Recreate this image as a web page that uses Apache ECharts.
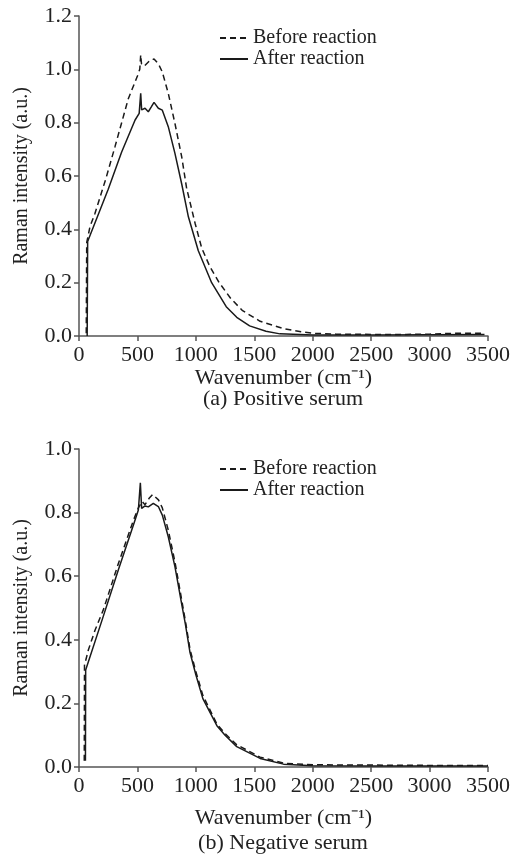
<!DOCTYPE html>
<html>
<head>
<meta charset="utf-8">
<script src="https://cdn.jsdelivr.net/npm/echarts@6/dist/echarts.min.js"></script>
<style>
html,body{margin:0;padding:0;background:#fff;}
#chart{width:520px;height:856px;}
</style>
</head>
<body>
<div id="chart"></div>
<script>
// ---- Data ----
const seriesNames = ['Before reaction', 'After reaction'];
const xTicks = [0, 500, 1000, 1500, 2000, 2500, 3000, 3500];

// (a) Positive serum
const posBeforeX = [62, 66, 94, 137, 194, 230, 308, 422, 500, 520, 528, 535, 559, 600, 642, 680, 713, 764, 821, 879, 921, 995, 1050, 1120, 1200, 1300, 1400, 1550, 1750, 1900, 2000, 2200, 2500, 2800, 3000, 3200, 3470];
const posBeforeY = [0.01, 0.35, 0.41, 0.46, 0.54, 0.59, 0.71, 0.89, 0.975, 1.0, 1.054, 1.02, 1.012, 1.03, 1.039, 1.02, 0.99, 0.91, 0.797, 0.672, 0.554, 0.42, 0.33, 0.26, 0.2, 0.14, 0.095, 0.055, 0.028, 0.016, 0.01, 0.007, 0.006, 0.006, 0.007, 0.01, 0.01];
const posAfterX = [70, 74, 250, 365, 480, 515, 528, 536, 565, 593, 620, 642, 679, 713, 764, 821, 879, 936, 1021, 1135, 1260, 1350, 1460, 1600, 1720, 2000, 2500, 3000, 3470];
const posAfterY = [0.0, 0.354, 0.55, 0.69, 0.81, 0.835, 0.91, 0.848, 0.854, 0.841, 0.86, 0.876, 0.854, 0.847, 0.785, 0.685, 0.57, 0.447, 0.32, 0.2, 0.11, 0.07, 0.038, 0.018, 0.008, 0.004, 0.004, 0.005, 0.006];

// (b) Negative serum
const negBeforeX = [45, 47, 80, 137, 208, 337, 465, 508, 540, 565, 600, 630, 680, 713, 764, 821, 879, 910, 950, 1000, 1060, 1180, 1250, 1350, 1550, 1750, 2000, 2500, 3000, 3500];
const negBeforeY = [0.02, 0.32, 0.368, 0.43, 0.494, 0.64, 0.775, 0.815, 0.835, 0.825, 0.845, 0.857, 0.84, 0.815, 0.745, 0.645, 0.525, 0.46, 0.37, 0.3, 0.225, 0.135, 0.105, 0.07, 0.031, 0.012, 0.007, 0.006, 0.005, 0.005];
const negAfterX = [55, 57, 200, 337, 465, 508, 525, 536, 565, 593, 636, 679, 713, 764, 821, 880, 910, 950, 1000, 1060, 1180, 1250, 1350, 1550, 1750, 2000, 2500, 3000, 3500];
const negAfterY = [0.02, 0.305, 0.465, 0.62, 0.76, 0.808, 0.894, 0.813, 0.821, 0.818, 0.829, 0.819, 0.792, 0.724, 0.63, 0.51, 0.45, 0.36, 0.29, 0.215, 0.13, 0.1, 0.064, 0.027, 0.009, 0.004, 0.003, 0.003, 0.003];

const captions = ['(a) Positive serum', '(b) Negative serum'];
const yName = 'Raman intensity (a.u.)';
const xName = 'Wavenumber (cm\u207B\u00B9)';

// ---- Build chart ----
const zip = (xs, ys) => xs.map((x, i) => [x, ys[i]]);
const FONT = 'Liberation Serif';
const INK = '#222';
const AXC = '#555';

function xAxisDef(gridIndex, gap) {
  return {
    type: 'value', gridIndex, min: xTicks[0], max: xTicks[xTicks.length - 1], interval: 500,
    name: xName, nameLocation: 'middle', nameGap: gap,
    nameTextStyle: { fontFamily: FONT, fontSize: 22, color: INK },
    axisLine: { show: true, onZero: false, lineStyle: { color: AXC, width: 1.5 } },
    axisTick: { show: true, inside: false, length: 5, lineStyle: { color: AXC, width: 1.5 } },
    axisLabel: { fontFamily: FONT, fontSize: 22, color: INK, margin: 8, formatter: v => String(v) },
    splitLine: { show: false }
  };
}
function yAxisDef(gridIndex, max) {
  return {
    type: 'value', gridIndex, min: 0, max: max, interval: 0.2,
    name: yName, nameLocation: 'middle', nameGap: 47, nameRotate: 90,
    nameTextStyle: { fontFamily: FONT, fontSize: 20, color: INK },
    axisLine: { show: true, lineStyle: { color: AXC, width: 1.5 } },
    axisTick: { show: true, inside: false, length: 5, lineStyle: { color: AXC, width: 1.5 } },
    axisLabel: { fontFamily: FONT, fontSize: 22, color: INK, margin: 7, formatter: v => v.toFixed(1) },
    splitLine: { show: false }
  };
}
function lineSeries(name, data, idx, dashed) {
  return {
    name, type: 'line', xAxisIndex: idx, yAxisIndex: idx, data,
    symbol: 'none', showSymbol: false, smooth: false, animation: false,
    lineStyle: { color: '#1a1a1a', width: 1.5, type: dashed ? [6, 4] : 'solid' },
    itemStyle: { color: '#1a1a1a' }
  };
}
function legendDef(top) {
  return {
    orient: 'vertical', left: 214, top: top, itemWidth: 28, itemHeight: 10, itemGap: 1,
    data: seriesNames, selectedMode: false,
    itemStyle: { opacity: 0 },
    textStyle: { fontFamily: FONT, fontSize: 20, color: INK }
  };
}

const chart = echarts.init(document.getElementById('chart'), null, { renderer: 'canvas' });
chart.setOption({
  backgroundColor: '#fff',
  animation: false,
  grid: [
    { left: 79, width: 409, top: 16, height: 320 },
    { left: 79, width: 409, top: 449, height: 318 }
  ],
  xAxis: [xAxisDef(0, 30), xAxisDef(1, 40)],
  yAxis: [yAxisDef(0, 1.2), yAxisDef(1, 1.0)],
  legend: [legendDef(23), legendDef(454)],
  series: [
    lineSeries(seriesNames[0], zip(posBeforeX, posBeforeY), 0, true),
    lineSeries(seriesNames[1], zip(posAfterX, posAfterY), 0, false),
    lineSeries(seriesNames[0], zip(negBeforeX, negBeforeY), 1, true),
    lineSeries(seriesNames[1], zip(negAfterX, negAfterY), 1, false)
  ],
  graphic: [
    { type: 'text', x: 283, y: 399, style: { text: captions[0], font: '22px "Liberation Serif"', fill: INK, align: 'center', verticalAlign: 'middle' } },
    { type: 'text', x: 283, y: 843, style: { text: captions[1], font: '22px "Liberation Serif"', fill: INK, align: 'center', verticalAlign: 'middle' } }
  ]
});
</script>
</body>
</html>
